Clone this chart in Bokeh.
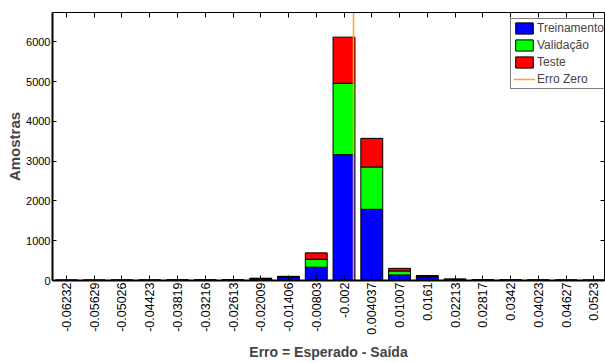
import math
from bokeh.plotting import figure
from bokeh.models import ColumnDataSource, FixedTicker, LinearAxis, Range1d
from bokeh.embed import file_html
from bokeh.resources import INLINE

# ---- data ----
bin_labels = ["-0.06232", "-0.05629", "-0.05026", "-0.04423", "-0.03819",
              "-0.03216", "-0.02613", "-0.02009", "-0.01406", "-0.00803",
              "-0.002", "0.004037", "0.01007", "0.0161", "0.02213",
              "0.02817", "0.0342", "0.04023", "0.04627", "0.0523"]
treinamento = [5, 5, 6, 6, 7, 8, 10, 40, 75, 335, 3165, 1790, 140, 90, 25, 10, 8, 7, 6, 5]
validacao = [1, 1, 1, 2, 2, 2, 2, 10, 18, 200, 1795, 1065, 100, 20, 6, 2, 2, 1, 1, 1]
teste = [1, 1, 1, 1, 2, 2, 2, 8, 12, 160, 1160, 720, 65, 15, 5, 2, 2, 1, 1, 1]
y_ticks = [0, 1000, 2000, 3000, 4000, 5000, 6000]
zero_error = 0.0

series_names = ["Treinamento", "Validação", "Teste"]
series_colors = ["#0000FF", "#00FF00", "#FF0000"]

centers = [float(s) for s in bin_labels]
step = (centers[-1] - centers[0]) / (len(centers) - 1)

src = ColumnDataSource(dict(x=centers, tr=treinamento, va=validacao, te=teste))

FONT = "Liberation Sans"

p = figure(width=605, height=363, output_backend="svg", toolbar_location=None,
           x_range=Range1d(centers[0] - 0.505 * step, centers[-1] + 0.385 * step),
           y_range=Range1d(0, 6740),
           min_border_left=52, min_border_right=1, min_border_top=12, min_border_bottom=83)
p.outline_line_color = None
p.xgrid.visible = False
p.ygrid.visible = False
p.background_fill_color = "white"
p.border_fill_color = "white"

p.vbar_stack(["tr", "va", "te"], x="x", width=0.79 * step, source=src,
             fill_color=series_colors, line_color="black", line_width=1,
             legend_label=series_names)

p.vspan(x=[zero_error], line_color="#FFA31A", line_width=1.5, legend_label="Erro Zero")

xticker = FixedTicker(ticks=centers)
yticker = FixedTicker(ticks=y_ticks)

# bottom axis
xa = p.xaxis[0]
xa.ticker = xticker
xa.major_label_overrides = {c: s for c, s in zip(centers, bin_labels)}
xa.major_label_orientation = math.pi / 2
xa.major_label_text_font = FONT
xa.major_label_text_font_size = "12.5px"
xa.major_label_text_color = "black"
xa.major_label_standoff = 2
xa.major_tick_in = 5
xa.major_tick_out = 0
xa.minor_tick_line_color = None
xa.axis_line_width = 2
xa.axis_label = "Erro = Esperado - Saída"
xa.axis_label_text_font = FONT
xa.axis_label_text_font_style = "bold"
xa.axis_label_text_font_size = "14px"
xa.axis_label_standoff = 6

# left axis
ya = p.yaxis[0]
ya.ticker = yticker
ya.major_label_text_font = FONT
ya.major_label_text_font_size = "11px"
ya.major_label_text_color = "black"
ya.major_label_standoff = 2
ya.major_tick_in = 4
ya.major_tick_out = 0
ya.minor_tick_line_color = None
ya.axis_line_width = 2
ya.axis_label = "Amostras"
ya.axis_label_text_font = FONT
ya.axis_label_text_font_style = "bold"
ya.axis_label_text_font_size = "15px"
ya.axis_label_standoff = 0

# top and right axes: ticks only, no labels drawn
top = LinearAxis(ticker=xticker, major_label_text_font_size="0px", major_label_text_color=None,
                 major_label_standoff=0, major_tick_in=5, major_tick_out=0,
                 minor_tick_line_color=None, axis_line_width=1)
right = LinearAxis(ticker=yticker, major_label_text_font_size="0px", major_label_text_color=None,
                   major_label_standoff=0, major_tick_in=4, major_tick_out=0,
                   minor_tick_line_color=None, axis_line_width=1)
p.add_layout(top, "above")
p.add_layout(right, "right")

lg = p.legend[0]
lg.location = (458, 191)
lg.margin = 0
lg.padding = 2
lg.spacing = 3
lg.glyph_width = 22
lg.glyph_height = 14
lg.label_standoff = 2
lg.label_text_font = FONT
lg.label_text_font_size = "12px"
lg.label_height = 14
lg.border_line_color = "black"
lg.border_line_width = 1
lg.background_fill_alpha = 1

open("out.html", "w").write(file_html(p, INLINE))
